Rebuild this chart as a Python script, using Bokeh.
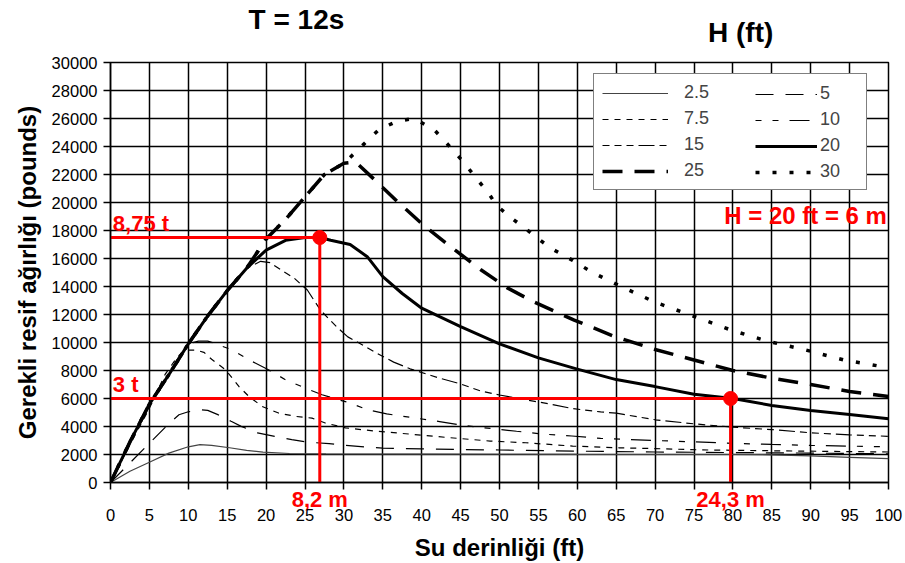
from bokeh.plotting import figure
from bokeh.models import Range1d, FixedTicker, Legend, LegendItem, Label, LinearAxis
from bokeh.embed import file_html
from bokeh.resources import INLINE

# ---------------- data ----------------
wave_heights = ["2.5", "5", "7.5", "10", "15", "20", "25", "30"]

depth_h2_5 = [0, 2.5, 5, 7.5, 10, 11.5, 13, 15.3, 17.5, 19.6, 23, 27.7, 40, 60, 80, 85, 90, 95, 100]
weight_h2_5 = [0, 800, 1450, 2100, 2550, 2700, 2650, 2480, 2300, 2170, 2070, 2050, 2030, 2010, 2000, 1980, 1900, 1800, 1700]

depth_h5 = [0, 2.5, 5, 7.5, 8.8, 10, 11.5, 12.5, 13.8, 15.5, 16.8, 18.9, 21.1, 23.3, 25.5, 28.1, 30, 35, 40, 50, 60, 70, 80, 90, 100]
weight_h5 = [0, 1400, 2800, 4200, 4840, 5050, 5200, 5150, 4850, 4370, 4010, 3540, 3300, 3060, 2870, 2780, 2660, 2450, 2400, 2320, 2240, 2180, 2140, 2100, 2050]

depth_h7_5 = [0, 2.5, 5, 7, 8.5, 9.5, 11, 12, 13, 14.8, 16.5, 17.8, 19.5, 21.6, 23.8, 25.9, 27.6, 30.2, 33.8, 40.2, 43.6, 48.8, 53.4, 59.4, 65.4, 70, 75.8, 84.4, 93, 100]
weight_h7_5 = [0, 2700, 5300, 7700, 8900, 9450, 9450, 9300, 8800, 8050, 6860, 6140, 5430, 4960, 4720, 4600, 4250, 3900, 3690, 3370, 3200, 2960, 2840, 2600, 2480, 2420, 2330, 2270, 2220, 2180]

depth_h10 = [0, 2.5, 5, 7.5, 10, 11.3, 12.5, 13.3, 15.6, 17.8, 20.3, 22.5, 25, 27.2, 29.3, 30.8, 33, 35.5, 39, 42.3, 45.4, 49, 52.2, 55.6, 59.3, 63, 70, 75, 80, 85, 90, 95, 100]
weight_h10 = [0, 2900, 5600, 7700, 9900, 10100, 10100, 9950, 9480, 8760, 8050, 7340, 6750, 6270, 5910, 5680, 5200, 4900, 4620, 4350, 4070, 3850, 3660, 3460, 3320, 3150, 3000, 2900, 2800, 2720, 2650, 2600, 2550]

depth_h15 = [0, 2.5, 5, 7.5, 10, 12.5, 15, 17.5, 19.3, 20.5, 22, 23.6, 25.3, 27, 29.1, 30.5, 32, 34, 36.4, 38.5, 42, 45, 47.5, 50, 53, 57, 59.4, 63, 65, 70, 75, 80, 85, 90, 95, 100]
weight_h15 = [0, 2900, 5600, 7700, 9900, 11900, 13700, 15300, 15800, 15700, 15150, 14600, 13750, 12300, 11100, 10400, 9950, 9300, 8600, 8120, 7500, 7040, 6550, 6250, 5950, 5550, 5280, 5040, 4950, 4480, 4190, 3950, 3780, 3550, 3400, 3300]

depth_h20 = [0, 2.5, 5, 7.5, 10, 12.5, 15, 17.5, 20, 22.5, 25, 26.9, 28.3, 30.8, 33, 35, 37.5, 40, 45, 50, 55, 60, 65, 70, 75, 80, 85, 90, 95, 100]
weight_h20 = [0, 2900, 5600, 7700, 9900, 11900, 13700, 15300, 16600, 17300, 17500, 17500, 17300, 17000, 16130, 14700, 13500, 12450, 11140, 9900, 8900, 8100, 7350, 6850, 6300, 6000, 5500, 5150, 4850, 4550]

depth_h25 = [0, 2.5, 5, 7.5, 10, 12.5, 15, 17.5, 20, 22.5, 25, 27.5, 30, 31.5, 34, 37, 40.5, 44.3, 47.6, 51, 54.4, 59.6, 64.7, 70, 75, 80, 85, 90, 95, 100]
weight_h25 = [0, 2900, 5600, 7700, 9900, 11900, 13700, 15300, 17400, 18800, 20400, 22000, 22800, 22900, 21600, 20000, 18250, 16600, 15200, 13900, 12900, 11600, 10450, 9500, 8750, 8000, 7450, 7000, 6500, 6150]

depth_h30 = [0, 2.5, 5, 7.5, 10, 12.5, 15, 17.5, 20, 22.5, 25, 27.5, 30, 31.7, 33, 34.5, 36.8, 39, 41.6, 43.1, 44.4, 45.5, 47.2, 48.5, 49.6, 51.5, 53.2, 55, 56.7, 59.3, 61.8, 64.3, 69.9, 74.6, 79.7, 84.4, 89.1, 94.3, 100]
weight_h30 = [0, 2900, 5600, 7700, 9900, 11900, 13700, 15300, 17400, 18800, 20400, 22000, 22800, 23700, 24400, 25200, 25800, 26000, 25200, 24300, 23500, 22800, 21600, 20750, 19800, 18900, 18200, 17400, 16700, 15900, 15050, 14350, 12900, 11950, 10900, 10100, 9500, 8750, 8200]

# red marker annotations (depth ft, weight lb)
marker_depths = [26.9, 79.7]
marker_weights = [17500, 6000]
marker_weight_labels = ["8,75 t", "3 t"]
marker_depth_labels = ["8,2 m", "24,3 m"]

# header texts and where they sit along the depth axis
header_texts = ["T = 12s\n\u00a0", "\u00a0\nH (ft)"]
header_depths = [23.9, 81.0]

x_ticks = list(range(0, 101, 5))
y_ticks = list(range(0, 30001, 2000))

# ---------------- figure ----------------
TICK_FONT = "Liberation Sans"
BOLD_FONT = "Liberation Sans"

p = figure(width=905, height=563, output_backend="svg", toolbar_location=None, title=None,
           x_range=Range1d(0, 100), y_range=Range1d(0, 30000),
           min_border_left=110, min_border_right=17, min_border_top=62, min_border_bottom=80)
p.background_fill_color = "white"
p.border_fill_color = "white"
p.outline_line_color = "black"
p.outline_line_width = 1.5

# y axis
ya = p.yaxis[0]
ya.ticker = FixedTicker(ticks=y_ticks)
ya.axis_line_color = "black"
ya.axis_line_width = 1.5
ya.major_tick_line_color = "black"
ya.major_tick_line_width = 1.5
ya.major_tick_in = 0
ya.major_tick_out = 7
ya.minor_tick_line_color = None
ya.major_label_text_font = TICK_FONT
ya.major_label_text_font_size = "16.5px"
ya.major_label_text_color = "black"
ya.major_label_standoff = 6
ya.axis_label = "Gerekli resif ağırlığı (pounds)"
ya.axis_label_text_font = BOLD_FONT
ya.axis_label_text_font_style = "bold"
ya.axis_label_text_font_size = "24px"
ya.axis_label_text_color = "black"
ya.axis_label_standoff = 8

# inner x axis: black ticks every 5 ft (minor) + red metre labels (major)
xa = p.xaxis[0]
xa.ticker = FixedTicker(ticks=marker_depths, minor_ticks=x_ticks)
xa.major_label_overrides = dict(zip(marker_depths, marker_depth_labels))
xa.axis_line_color = "black"
xa.axis_line_width = 1.5
xa.major_tick_line_color = None
xa.major_tick_in = 0
xa.major_tick_out = 0
xa.minor_tick_line_color = "black"
xa.minor_tick_line_width = 1.5
xa.minor_tick_in = 0
xa.minor_tick_out = 7
xa.major_label_standoff = -3
xa.major_label_text_font = BOLD_FONT
xa.major_label_text_font_style = "bold"
xa.major_label_text_font_size = "22px"
xa.major_label_text_color = "red"

# outer x axis: numbers and title
xb = LinearAxis(ticker=FixedTicker(ticks=x_ticks))
xb.axis_line_color = None
xb.major_tick_line_color = None
xb.minor_tick_line_color = None
xb.major_tick_in = 0
xb.major_tick_out = 0
xb.major_label_standoff = -6
xb.major_label_text_font = TICK_FONT
xb.major_label_text_font_size = "16.5px"
xb.major_label_text_color = "black"
xb.axis_label = "Su derinliği (ft)"
xb.axis_label_text_font = BOLD_FONT
xb.axis_label_text_font_style = "bold"
xb.axis_label_text_font_size = "24px"
xb.axis_label_text_color = "black"
xb.axis_label_standoff = 10
p.add_layout(xb, "below")

# header axis above: "T = 12s" and "H (ft)"
xh = LinearAxis(ticker=FixedTicker(ticks=header_depths))
xh.major_label_overrides = dict(zip(header_depths, header_texts))
xh.axis_line_color = None
xh.major_tick_line_color = None
xh.minor_tick_line_color = None
xh.major_tick_in = 0
xh.major_tick_out = 0
xh.major_label_standoff = 15
xh.major_label_text_font = BOLD_FONT
xh.major_label_text_font_style = "bold"
xh.major_label_text_font_size = "28px"
xh.major_label_text_line_height = 0.4
xh.major_label_text_color = "black"
p.add_layout(xh, "above")

p.xgrid[0].ticker = FixedTicker(ticks=x_ticks)
p.ygrid[0].ticker = FixedTicker(ticks=y_ticks)
p.grid.grid_line_color = "black"
p.grid.grid_line_width = 1.5
p.grid.grid_line_alpha = 1.0

series = [
    (depth_h2_5, weight_h2_5, dict(line_color="#444444", line_width=1.2, line_dash="solid")),
    (depth_h5, weight_h5, dict(line_color="black", line_width=1.2, line_dash="18 12")),
    (depth_h7_5, weight_h7_5, dict(line_color="black", line_width=1.2, line_dash="6 6")),
    (depth_h10, weight_h10, dict(line_color="black", line_width=1.2, line_dash="6 11 6 11 20 11")),
    (depth_h15, weight_h15, dict(line_color="black", line_width=1.2, line_dash="7 5 7 5 7 5 16 5")),
    (depth_h20, weight_h20, dict(line_color="black", line_width=3, line_dash="solid")),
    (depth_h25, weight_h25, dict(line_color="black", line_width=3.5, line_dash="20 12")),
    (depth_h30, weight_h30, dict(line_color="black", line_width=3.5, line_dash="4 13")),
]

items = []
for label, (xs, ys, style) in zip(wave_heights, series):
    r = p.line(xs, ys, **style)
    items.append(LegendItem(label=label, renderers=[r]))

# red annotation lines
for d, w in zip(marker_depths, marker_weights):
    p.line([0, d], [w, w], line_color="red", line_width=3)
    p.line([d, d], [w, 0], line_color="red", line_width=3)
p.scatter(marker_depths, marker_weights, size=14, color="red")

for w, wl in zip(marker_weights, marker_weight_labels):
    p.add_layout(Label(x=0.3, y=w + 1000, text=wl, text_color="red", text_font=BOLD_FONT,
                       text_font_style="bold", text_font_size="22px",
                       text_align="left", text_baseline="middle"))

p.add_layout(Label(x=99.8, y=19100, text="H = 20 ft = 6 m", text_color="red", text_font=BOLD_FONT,
                   text_font_style="bold", text_font_size="24px",
                   text_align="right", text_baseline="middle"))

# legend: two column legends sharing one box
common = dict(orientation="vertical", glyph_height=20, label_height=20, spacing=5, padding=8,
              margin=0, label_text_font=TICK_FONT, label_text_font_size="18px",
              border_line_color="black", border_line_width=1.2)
legend_left = Legend(items=items[0::2], location=(483, 292), glyph_width=66, label_standoff=16,
                     label_width=174, background_fill_color="white", background_fill_alpha=1.0,
                     **common)
legend_right = Legend(items=items[1::2], location=(637, 292), glyph_width=62, label_standoff=3,
                      label_width=30, background_fill_alpha=0.0, border_line_alpha=0.0, **common)
p.add_layout(legend_left)
p.add_layout(legend_right)

open("out.html", "w").write(file_html(p, INLINE))
